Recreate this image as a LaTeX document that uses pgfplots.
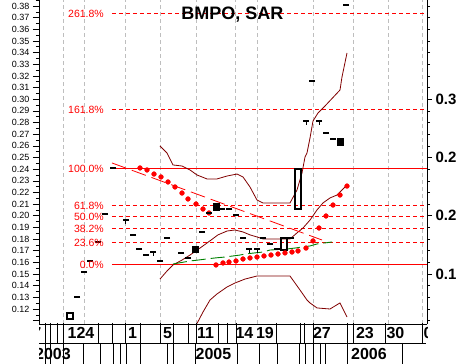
\documentclass[border=0pt]{standalone}
\usepackage{fontspec}
\setmainfont{Liberation Sans}
\usepackage{pgfplots}
\pgfplotsset{compat=1.18}
\definecolor{dkred}{RGB}{128,0,0}
\definecolor{dkgreen}{RGB}{0,128,0}
\definecolor{gridgray}{RGB}{190,190,190}
\definecolor{fibred}{RGB}{255,0,0}
\begin{document}
\begin{tikzpicture}[x=1pt,y=1pt]
\path[use as bounding box] (0,0) rectangle (464,364);
\begin{axis}[
  at={(39pt,40pt)}, anchor=south west,
  scale only axis, width=388pt, height=324pt,
  xmin=39, xmax=427, ymin=0.10713, ymax=0.38515,
  axis x line*=bottom, axis y line*=left,
  axis line style={-, black, line width=0.8pt},
  xtick={63,84,125,160,196,235,257,313,353,388,422}, xticklabels={},
  xtick style={draw=none},
  xmajorgrids, major x grid style={gridgray, dash pattern=on 4pt off 3pt, line width=0.8pt},
  ytick={0.12,0.13,0.14,0.15,0.16,0.17,0.18,0.19,0.20,0.21,0.22,0.23,0.24,0.25,0.26,0.27,0.28,0.29,0.30,0.31,0.32,0.33,0.34,0.35,0.36,0.37,0.38},
  yticklabels={0.12,0.13,0.14,0.15,0.16,0.17,0.18,0.19,0.20,0.21,0.22,0.23,0.24,0.25,0.26,0.27,0.28,0.29,0.30,0.31,0.32,0.33,0.34,0.35,0.36,0.37,0.38},
  extra y ticks={0.11}, extra y tick labels={},
  minor ytick={0.115,0.125,0.135,0.145,0.155,0.165,0.175,0.185,0.195,0.205,0.215,0.225,0.235,0.245,0.255,0.265,0.275,0.285,0.295,0.305,0.315,0.325,0.335,0.345,0.355,0.365,0.375,0.385},
  tick align=outside, major tick length=6pt, minor tick length=3pt,
  ytick style={black, line width=0.6pt},
  yticklabel style={font=\fontsize{9}{10}\selectfont},
  clip=true,
]
% Fibonacci levels
\addplot[draw=fibred, line width=1pt] coordinates {(112,0.24056) (427,0.24056)};
\addplot[draw=fibred, line width=1pt] coordinates {(112,0.15819) (427,0.15819)};
\addplot[draw=fibred, line width=1pt, dash pattern=on 4pt off 3pt] coordinates {(112,0.37357) (427,0.37357)};
\addplot[draw=fibred, line width=1pt, dash pattern=on 4pt off 3pt] coordinates {(112,0.29119) (427,0.29119)};
\addplot[draw=fibred, line width=1pt, dash pattern=on 4pt off 3pt] coordinates {(112,0.20881) (427,0.20881)};
\addplot[draw=fibred, line width=1pt, dash pattern=on 4pt off 3pt] coordinates {(112,0.19937) (427,0.19937)};
\addplot[draw=fibred, line width=1pt, dash pattern=on 4pt off 3pt] coordinates {(112,0.18908) (427,0.18908)};
\addplot[draw=fibred, line width=1pt, dash pattern=on 4pt off 3pt] coordinates {(112,0.17706) (427,0.17706)};
% Bands
\addplot[dkred, line width=0.8pt] coordinates {(160,0.2599) (167,0.2539) (173,0.2436) (182,0.2427) (190,0.2393) (197,0.2350) (207,0.2316) (217,0.2316) (227,0.2341) (237,0.2358) (243,0.2333) (250,0.2247) (257,0.2135) (263,0.2110) (290,0.2110) (297,0.2221) (302,0.2367) (305,0.2504) (307,0.2539) (310,0.2667) (313,0.2813) (318,0.2882) (325,0.2942) (340,0.3079) (342,0.3191) (347,0.3397)};
\addplot[dkred, line width=0.8pt] coordinates {(160,0.1457) (167,0.1526) (173,0.1578) (182,0.1620) (190,0.1663) (200,0.1723) (207,0.1766) (218,0.1836) (227,0.1869) (235,0.1878) (243,0.1861) (250,0.1836) (257,0.1818) (263,0.1801) (290,0.1801) (297,0.1853) (303,0.1895) (310,0.1963) (317,0.2050) (323,0.2110) (330,0.2153) (337,0.2178) (345,0.2247)};
\addplot[dkred, line width=0.8pt] coordinates {(197,0.10756) (203,0.1174) (210,0.1277) (217,0.1329) (227,0.1389) (235,0.1423) (245,0.1457) (257,0.1483) (290,0.1483) (295,0.1423) (300,0.1363) (307,0.1277) (310,0.1252) (317,0.1209) (330,0.1200) (340,0.1252) (347,0.1131)};
% trend line and green line
\addplot[draw=fibred, line width=0.8pt, dash pattern=on 15pt off 6pt] coordinates {(112,0.2453) (322,0.1792)};
\addplot[dkgreen, line width=0.9pt, dash pattern=on 14pt off 5pt] coordinates {(173,0.1586) (190,0.1612) (198,0.1620) (215,0.1638) (225,0.1646) (240,0.1663) (245,0.1672) (263,0.1689) (270,0.1706) (287,0.1715) (295,0.1723) (310,0.1741) (317,0.1758) (332,0.1775)};
% SAR
\addplot[only marks, mark=*, mark size=2.4pt, red, mark options={fill=red, draw=red}] coordinates {(140,0.2410) (147,0.2393) (154,0.2358) (161,0.2333) (168,0.2290) (175,0.2247) (182,0.2195) (188,0.2144) (196,0.2101) (203,0.2058) (209,0.2024)};
\addplot[only marks, mark=*, mark size=2.4pt, red, mark options={fill=red, draw=red}] coordinates {(216,0.1578) (223,0.1595) (229,0.1603) (236,0.1612) (243,0.1629) (250,0.1638) (257,0.1646) (264,0.1655) (271,0.1663) (278,0.1672) (285,0.1681) (292,0.1689) (298,0.1698) (306,0.1723) (313,0.1784) (319,0.1895) (326,0.1998) (333,0.2092) (340,0.2178) (347,0.2255)};
% Price bars
\addplot[only marks, mark=-, mark size=3.2pt, black, mark options={line width=2.2pt}] coordinates {(77,0.1303) (84,0.1518) (90,0.1612) (98,0.1775) (105,0.2015) (113,0.2410) (126,0.1963) (133,0.1836) (139,0.1715) (146,0.1663) (153,0.1689) (160,0.1612) (167,0.1809) (181,0.1681) (188,0.1638) (202,0.1861) (209,0.2024) (222,0.2058) (229,0.2058) (236,0.2007) (243,0.1809) (249,0.1715) (257,0.1715) (263,0.1809) (270,0.1758) (277,0.1715) (291,0.1809) (306,0.2813) (312,0.3156) (319,0.2813) (326,0.2710) (333,0.2659) (346,0.3809)};
\addplot[only marks, mark=|, mark size=1.5pt, black, mark options={line width=1pt}] coordinates {(126,0.1940) (153,0.1667) (249,0.1695) (257,0.1695) (306,0.2790) (319,0.2790)};
\addplot[black, line width=1.5pt] coordinates {(67,0.1166) (73,0.1166) (73,0.1114) (67,0.1114) (67,0.1166)} -- cycle;
\addplot[black, line width=1.8pt] coordinates {(281,0.1809) (287,0.1809) (287,0.1706) (281,0.1706) (281,0.1809)} -- cycle;
\addplot[black, line width=1.8pt] coordinates {(295,0.2401) (301,0.2401) (301,0.2058) (295,0.2058) (295,0.2401)} -- cycle;
\addplot[black, fill=black] coordinates {(192,0.1741) (198,0.1741) (198,0.1689) (192,0.1689)} -- cycle;
\addplot[black, fill=black] coordinates {(213,0.2110) (219,0.2110) (219,0.2050) (213,0.2050)} -- cycle;
\addplot[black, fill=black] coordinates {(337,0.2667) (343,0.2667) (343,0.2607) (337,0.2607)} -- cycle;
\end{axis}
\begin{axis}[
  at={(39pt,40pt)}, anchor=south west,
  scale only axis, width=388pt, height=324pt,
  xmin=39, xmax=427, ymin=0.10713, ymax=0.38515,
  axis x line=none, axis y line*=right,
  axis line style={-, black, line width=0.8pt},
  ytick={0.15,0.2,0.25,0.3}, yticklabels={0.1,0.2,0.2,0.3},
  minor ytick={0.11,0.12,0.13,0.14,0.16,0.17,0.18,0.19,0.21,0.22,0.23,0.24,0.26,0.27,0.28,0.29,0.31,0.32,0.33,0.34,0.35,0.36,0.37,0.38},
  tick align=outside, major tick length=5pt, minor tick length=3pt,
  ytick style={black, line width=0.6pt},
  yticklabel style={font=\bfseries\fontsize{15}{16}\selectfont},
]
\addplot[draw=none] coordinates {(50,0.2)};
\end{axis}
% title
\node[font=\bfseries\fontsize{18}{18}\selectfont, inner sep=0] at (232.5,349) {BMPO, SAR};
% fib labels
\begin{scope}[every node/.style={anchor=east, text=fibred, font=\fontsize{10.5}{10.5}\selectfont, inner sep=0}]
\node at (104,350.5) {261.8\%};
\node at (104,254.5) {161.8\%};
\node at (104,195.5) {100.0\%};
\node at (104,158.5) {61.8\%};
\node at (104,147.5) {50.0\%};
\node at (104,135.5) {38.2\%};
\node at (104,121.5) {23.6\%};
\node at (104,99.5) {0.0\%};
\end{scope}
% bottom date rows
\draw[line width=0.8pt] (39,21) -- (426,21);
\foreach \x in {45,50,57,63,98,112,125,140,160,173,188,196,218,227,236,276,300,304,313,347,353,385,422}
  \draw[line width=0.8pt] (\x,41) -- (\x,21);
\foreach \x in {45,50,63,83,100,113,120,126,140,167,173,195,237,259,277,299,305,313,320,325,347,402}
  \draw[line width=0.8pt] (\x,21) -- (\x,0);
\begin{scope}[every node/.style={font=\bfseries\fontsize{16}{16}\selectfont, inner sep=0}]
\node at (81,31) {124};
\node at (132.5,31) {1};
\node at (167.5,31) {5};
\node at (205.5,31) {11};
\node at (244.5,31) {14};
\node at (265,31) {19};
\node at (322,31) {27};
\node at (365,31) {23};
\node at (395.5,31) {30};
\node at (213.5,10) {2005};
\node at (369,10) {2006};
\clip (39,0) rectangle (427,41);
\node[anchor=east] at (71,10) {2003};
\node[anchor=east] at (41.5,31) {27};
\node[anchor=west] at (423.5,31) {0};
\end{scope}
\end{tikzpicture}
\end{document}
